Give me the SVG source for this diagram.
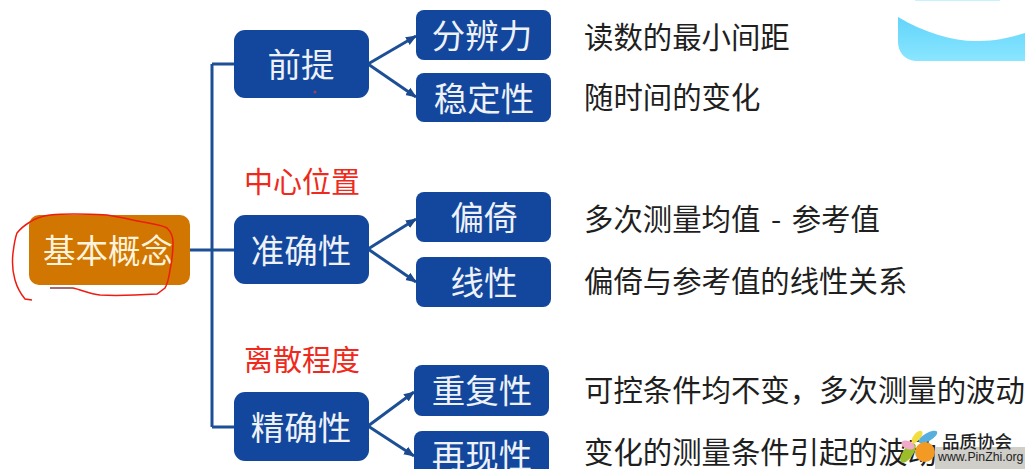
<svg xmlns="http://www.w3.org/2000/svg" width="1025" height="469" viewBox="0 0 1025 469">
<defs>
<linearGradient id="sky" x1="0" y1="0" x2="0" y2="1"><stop offset="0" stop-color="#62d4fb"/><stop offset="1" stop-color="#8ae6ff"/></linearGradient>
<marker id="ah" markerUnits="userSpaceOnUse" markerWidth="12" markerHeight="10" refX="10" refY="5" orient="auto"><path d="M0 0.5L11 5L0 9.5Z" fill="#1d4a8f"/></marker>
</defs>
<style>
text{font-family:"Noto Sans CJK SC","Liberation Sans",sans-serif}
.n{fill:#12479d}
.nt{fill:#eef2f8;font-size:33.5px;text-anchor:middle}
.d{fill:#1f1f1f;font-size:29.4px}
.r{fill:#ee2a1c;font-size:29px}
.c{fill:none;stroke:#1d4f96;stroke-width:3}
.a{marker-end:url(#ah)}
</style>
<rect width="1025" height="469" fill="#fff"/>
<path d="M915 0H1000V1H915Z" fill="#c8f2ff"/>
<path d="M898 17C925 33 955 42 980 41C997 41 1012 37 1025 33V61H915C905 60 898 52 898 42Z" fill="url(#sky)"/>
<g id="connectors">
<path class="c" d="M190 250H234M212 64V427M212 64H234M212 427H234"/>
<path class="c a" d="M368 64L416 36"/>
<path class="c a" d="M368 64L416 97"/>
<path class="c a" d="M368 249L416 219"/>
<path class="c a" d="M368 249L416 282"/>
<path class="c a" d="M368 426L414 392"/>
<path class="c a" d="M368 426L414 456"/>
</g>
<g id="n-root"><rect x="29" y="215" width="161" height="70" rx="10" fill="#d17600"/><text x="108" y="263" style="fill:#fff3dc;font-size:32.5px;text-anchor:middle">基本概念</text></g>
<g id="n-qianti"><rect class="n" x="234" y="30" width="135" height="68" rx="11"/><text class="nt" x="301" y="77">前提</text></g>
<g id="n-zhunque"><rect class="n" x="234" y="215" width="135" height="69" rx="11"/><text class="nt" x="301" y="263">准确性</text></g>
<g id="n-jingque"><rect class="n" x="234" y="392" width="135" height="69" rx="11"/><text class="nt" x="301" y="440">精确性</text></g>
<g id="n-fenbian"><rect class="n" x="416" y="10" width="135" height="50" rx="8"/><text class="nt" x="482" y="48">分辨力</text></g>
<g id="n-wending"><rect class="n" x="416" y="73" width="135" height="49" rx="8"/><text class="nt" x="484" y="111">稳定性</text></g>
<g id="n-pianyi"><rect class="n" x="416" y="192" width="135" height="50" rx="8"/><text class="nt" x="484" y="230">偏倚</text></g>
<g id="n-xianxing"><rect class="n" x="416" y="257" width="135" height="50" rx="8"/><text class="nt" x="484" y="295">线性</text></g>
<g id="n-chongfu"><rect class="n" x="414" y="365" width="135" height="51" rx="8"/><text class="nt" x="482" y="403">重复性</text></g>
<g id="n-zaixian"><rect class="n" x="414" y="431" width="135" height="50" rx="8"/><text class="nt" x="482" y="468">再现性</text></g>
<text class="d" x="584" y="48">读数的最小间距</text>
<text class="d" x="584" y="108">随时间的变化</text>
<text class="d" x="584" y="230" style="word-spacing:4px">多次测量均值 - 参考值</text>
<text class="d" x="584" y="292">偏倚与参考值的线性关系</text>
<text class="d" x="584" y="401">可控条件均不变，多次测量的波动</text>
<text class="d" x="584" y="463">变化的测量条件引起的波动</text>
<text class="r" x="244" y="193">中心位置</text>
<text class="r" x="244" y="371">离散程度</text>
<path d="M32 300L25 299C20 293 17 287 15 280C12 270 12 262 13 253C14 245 15 238 17 233C21 228 25 225 30 222C36 218 43 216 50 215C68 213 90 214 107 215C120 217 132 220 143 222C153 224 162 225 167 228C171 232 173 237 173 242C173 252 172 261 170 270C169 277 168 283 165 288L157 294C140 295 118 296 100 295C90 294 82 290 73 288" fill="none" stroke="#ee1c10" stroke-width="1.5"/>
<path d="M73 288H50" fill="none" stroke="#8b3a3a" stroke-width="1.5"/>
<circle cx="315" cy="92" r="1.5" fill="#a04060"/>
<g id="watermark">
<rect x="935" y="447" width="90" height="22" fill="#cfcec9"/>
<ellipse cx="908" cy="453" rx="5" ry="11.5" transform="rotate(36 908 453)" fill="#9bbd2a"/>
<ellipse cx="908" cy="445" rx="4" ry="7" transform="rotate(-68 908 445)" fill="#eeaac8"/>
<ellipse cx="917" cy="437" rx="3.5" ry="7.5" transform="rotate(40 917 437)" fill="#f3dd40"/>
<ellipse cx="928" cy="437" rx="4" ry="10.5" transform="rotate(60 928 437)" fill="#58aedc"/>
<circle cx="925" cy="452" r="10" fill="#f29a24"/>
<text x="942" y="448" style="font-size:17.5px;font-weight:500" fill="#222">品质协会</text>
<text x="938" y="461" style="font-family:'Liberation Sans',sans-serif;font-size:12.3px" fill="#222">www.PinZhi.org</text>
</g>
</svg>
